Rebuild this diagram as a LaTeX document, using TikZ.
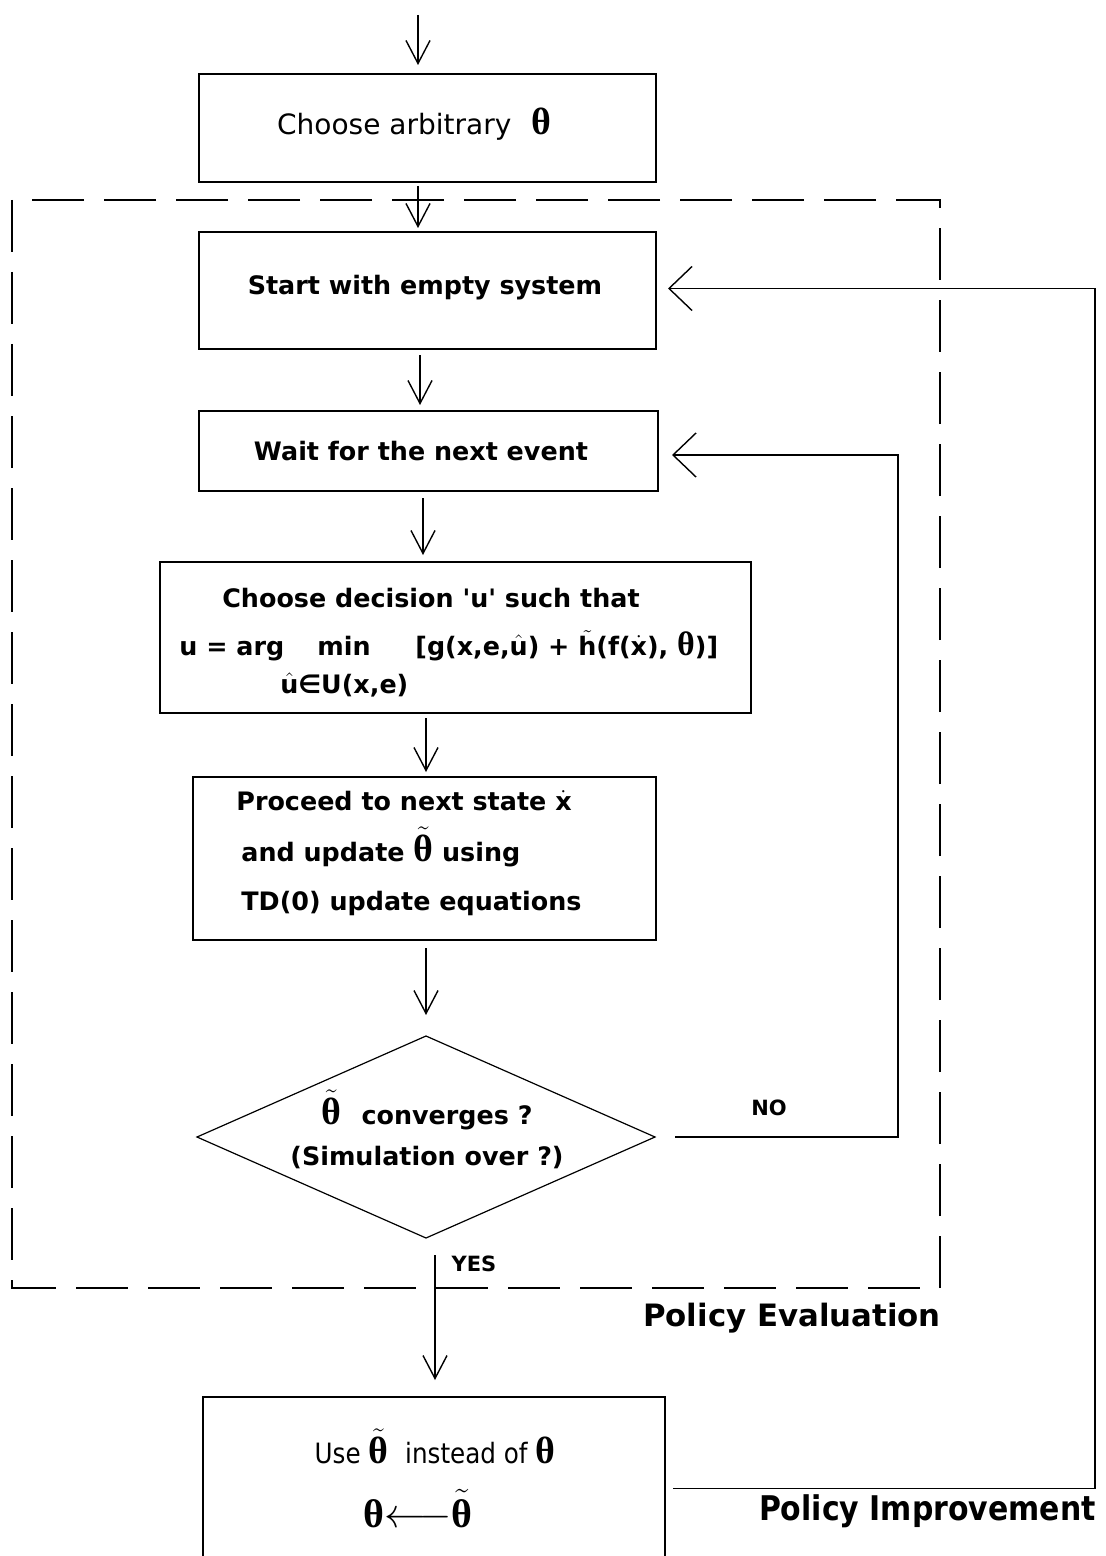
\documentclass[tikz,border=0pt]{standalone}
\usepackage{fontspec}
\setmainfont{DejaVu Sans}
\newfontfamily\narrowfont{DejaVu Sans}[FakeStretch=0.88]
\newfontfamily\thfont{Liberation Serif}
\usetikzlibrary{arrows.meta,shapes.geometric}

% accented letters set in the running text font
\newcommand\hatu{$\hat{\hbox{u}}$}
\newcommand\dotx{$\dot{\hbox{x}}$}
\newcommand\tilh{$\tilde{\hbox{h}}$}
% theta, plain and with a tilde, in a larger serif
\newcommand\thsize[1][19]{\fontsize{#1}{#1}\selectfont\thfont\bfseries}
\newcommand\thet[1][19]{{\thsize[#1]θ}}
\newcommand\tilth[1][19]{{\thsize[#1]$\tilde{\hbox{θ}}$}}

\tikzset{
  box/.style={draw, line width=0.75pt, inner sep=0pt, outer sep=0pt},
  flow/.style={draw, line width=0.7pt,
    -{Straight Barb[length=11.5pt,width=12pt,line width=0.7pt]}},
  sideflow/.style={draw, line width=0.7pt,
    -{Straight Barb[length=11.5pt,width=22pt,line width=0.7pt]}},
  txt/.style={inner sep=0pt, font=\fontsize{12.7}{15}\selectfont\bfseries},
  plain/.style={inner sep=0pt, font=\fontsize{14}{16}\selectfont},
  small/.style={inner sep=0pt, font=\fontsize{10.5}{12}\selectfont\bfseries},
  title/.style={inner sep=0pt, font=\fontsize{15.4}{18}\selectfont\bfseries},
  frame/.style={draw, line width=0.7pt, dash pattern=on 26pt off 10pt},
}

\begin{document}
\begin{tikzpicture}[x=0.5pt,y=-0.5pt]
\useasboundingbox (0,0) rectangle (1106,1556);
\clip (0,0) rectangle (1106,1556);

% policy evaluation frame
\draw[frame] (12,200) rectangle (940,1288);

% boxes
\node[box, minimum width=228.5pt, minimum height=54pt]   (b1) at (427.5,128) {};
\node[box, minimum width=228.5pt, minimum height=58.5pt] (b2) at (427.5,290.5) {};
\node[box, minimum width=229.5pt, minimum height=40pt]   (b3) at (428.5,451) {};
\node[box, minimum width=295.5pt, minimum height=75.5pt] (b4) at (455.5,637.5) {};
\node[box, minimum width=231.5pt, minimum height=81.5pt] (b5) at (424.5,858.5) {};
\node[diamond, draw, line width=0.6pt, inner sep=0pt, outer sep=0pt,
      minimum width=229pt, minimum height=101pt] (dec) at (426,1137) {};
\node[box, minimum width=231pt, minimum height=91.5pt]   (b6) at (434,1488.5) {};

% texts
\node[plain, anchor=base] (t1) at (414,135) {Choose arbitrary\hspace{0.7em}\thet};
\node[txt] (t2) at (425,288) {Start with empty system};
\node[txt] (t3) at (421,451) {Wait for the next event};
\node[txt, anchor=base] (t4a) at (431,607) {Choose decision \textquotesingle u\textquotesingle\ such that};
\node[txt, anchor=base west] (t4b) at (179,655) {u = arg};
\node[txt, anchor=base] (t4c) at (344,655) {min};
\node[txt, anchor=base west] (t4d) at (415,655) {[g(x,e,\hatu) + \tilh(f(\dotx), \thet[17])]};
\node[txt, anchor=base west] (t4e) at (280,693) {\hatu∈U(x,e)};
\node[txt, anchor=base west] (t5a) at (236,810) {Proceed to next state \dotx};
\node[txt, anchor=base west] (t5b) at (241,861) {and update \tilth\ using};
\node[txt, anchor=base west] (t5c) at (241,910) {TD(0) update equations};
\node[txt, anchor=base] (t6a) at (427,1124) {\tilth\hspace{0.8em}converges ?};
\node[txt] (t6b) at (427,1158) {(Simulation over ?)};
\node[plain, anchor=base, font=\fontsize{14}{16}\narrowfont] (t7a) at (435,1463)
  {Use \tilth\hspace{0.6em}instead of \thet};
\node[plain, anchor=base] (t7b) at (418,1527)
  {\thet[20]{\fontsize{20}{20}\selectfont$\longleftarrow$}\tilth[20]};

\node[small] (no) at (769,1108) {NO};
\node[small] (yes) at (474,1264) {YES};
\node[title, anchor=east] (pe) at (941,1318) {Policy Evaluation};
\node[inner sep=0pt, anchor=east, font=\fontsize{17}{20}\narrowfont\bfseries]
  (pi) at (1096,1511) {Policy Improvement};

% main flow
\coordinate (in) at (418,15);
\draw[flow, shorten >=4.5pt] (in) -- ([xshift=-4.75pt]b1.north);
\draw[flow, shorten <=2pt, shorten >=2pt] ([xshift=-4.75pt]b1.south) -- ([xshift=-4.75pt]b2.north);
\draw[flow, shorten <=3pt, shorten >=3pt] ([xshift=-3.75pt]b2.south) -- ([xshift=-4.25pt]b3.north);
\draw[flow, shorten <=3.5pt, shorten >=3.5pt] ([xshift=-2.75pt]b3.south) -- ([xshift=-16.25pt]b4.north);
\draw[flow, shorten <=2.5pt, shorten >=2.5pt] ([xshift=-14.75pt]b4.south) -- ([xshift=0.75pt]b5.north);
\draw[flow, shorten <=4pt, shorten >=10.5pt] ([xshift=0.75pt]b5.south) -- (dec.north);
\draw[flow, shorten <=8.5pt, shorten >=8.5pt] ([xshift=4.5pt]dec.south) -- ([xshift=0.5pt]b6.north);

% loops back
\coordinate (nox) at (898,800);
\draw[sideflow, shorten <=10pt, shorten >=7pt] (dec.east) -| (nox) |- ([yshift=-2pt]b3.east);
\coordinate (fbx) at (1095,800);
\draw[sideflow, shorten <=4pt, shorten >=6pt] (b6.east) -| (fbx) |- ([yshift=1pt]b2.east);
\end{tikzpicture}
\end{document}
